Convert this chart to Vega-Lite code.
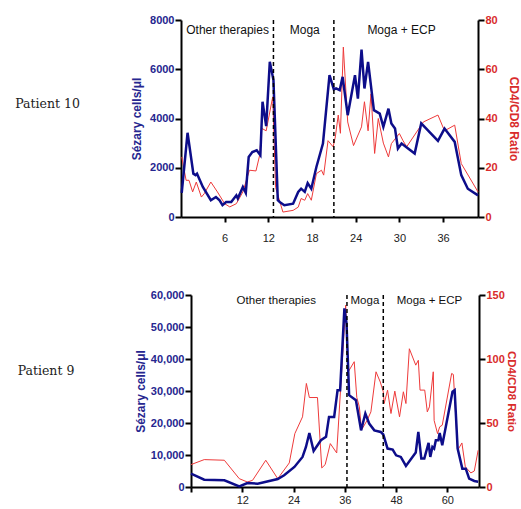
{
  "$schema": "https://vega.github.io/schema/vega-lite/v6.json",
  "padding": {"left": 0, "top": 14, "right": 0, "bottom": 0},
  "background": "white",
  "config": {
    "view": {"stroke": null},
    "font": "Liberation Sans",
    "axis": {"domainColor": "black", "domainWidth": 2, "tickColor": "black", "tickWidth": 2, "grid": false, "labelFont": "Liberation Sans", "titleFont": "Liberation Sans"}
  },
  "datasets": {
    "p10_cells": [
      {"t":0.1,"v":980},{"t":0.9,"v":3420},{"t":1.7,"v":1760},{"t":2.0,"v":1700},{"t":2.2,"v":1760},{"t":3.0,"v":1220},{"t":4.1,"v":680},{"t":4.8,"v":810},{"t":5.3,"v":680},{"t":5.7,"v":480},{"t":6.2,"v":610},{"t":6.9,"v":610},{"t":7.6,"v":880},{"t":7.8,"v":750},{"t":8.5,"v":1220},{"t":8.9,"v":980},{"t":9.3,"v":2440},{"t":9.8,"v":2640},{"t":10.4,"v":2710},{"t":10.9,"v":2510},{"t":11.2,"v":4680},{"t":11.7,"v":3690},{"t":12.2,"v":6300},{"t":12.7,"v":5560},{"t":13.3,"v":680},{"t":13.6,"v":600},{"t":14.2,"v":480},{"t":15.4,"v":540},{"t":16.1,"v":1020},{"t":16.5,"v":1150},{"t":17.0,"v":1020},{"t":17.4,"v":1380},{"t":17.9,"v":1150},{"t":18.6,"v":2030},{"t":19.5,"v":2980},{"t":20.4,"v":5760},{"t":21.0,"v":5180},{"t":21.3,"v":5220},{"t":21.8,"v":5150},{"t":22.2,"v":5690},{"t":22.9,"v":4135},{"t":23.9,"v":5760},{"t":24.3,"v":4810},{"t":24.8,"v":6800},{"t":25.2,"v":5220},{"t":25.7,"v":6300},{"t":26.5,"v":4340},{"t":27.3,"v":4200},{"t":27.8,"v":3660},{"t":28.5,"v":4400},{"t":28.9,"v":3800},{"t":29.4,"v":3590},{"t":29.8,"v":2780},{"t":30.3,"v":2980},{"t":32.1,"v":2580},{"t":33.0,"v":3800},{"t":35.3,"v":3090},{"t":36.2,"v":3590},{"t":37.6,"v":3050},{"t":38.5,"v":1700},{"t":39.4,"v":1150},{"t":40.8,"v":880}
    ],
    "p10_ratio": [
      {"t":0.1,"v":24.4},{"t":0.7,"v":14.9},{"t":1.1,"v":14.9},{"t":1.6,"v":10.2},{"t":2.1,"v":14.2},{"t":2.8,"v":8.1},{"t":3.2,"v":9.5},{"t":4.1,"v":14.2},{"t":5.0,"v":10.2},{"t":6.0,"v":5.4},{"t":6.7,"v":4.1},{"t":7.6,"v":5.4},{"t":8.5,"v":10.2},{"t":9.4,"v":19},{"t":10.3,"v":18.7},{"t":10.8,"v":25},{"t":11.1,"v":36},{"t":11.7,"v":35},{"t":12.6,"v":48.8},{"t":13.0,"v":12},{"t":14.0,"v":2},{"t":15.4,"v":2.7},{"t":16.1,"v":4},{"t":16.5,"v":7.5},{"t":17.0,"v":6.8},{"t":17.4,"v":9.5},{"t":17.9,"v":6.8},{"t":18.6,"v":17.6},{"t":19.3,"v":19},{"t":19.6,"v":17},{"t":20.2,"v":31},{"t":20.9,"v":28.5},{"t":21.2,"v":32.5},{"t":21.6,"v":41.4},{"t":21.9,"v":34},{"t":22.3,"v":69},{"t":22.9,"v":38.6},{"t":23.7,"v":29},{"t":24.8,"v":36.6},{"t":25.2,"v":46.8},{"t":25.7,"v":35},{"t":26.1,"v":50},{"t":26.6,"v":25.8},{"t":27.1,"v":40},{"t":27.8,"v":30},{"t":28.5,"v":24.4},{"t":28.9,"v":29.8},{"t":30.0,"v":33.9},{"t":30.5,"v":31},{"t":31.0,"v":28.5},{"t":33.3,"v":38.6},{"t":35.3,"v":41.4},{"t":36.2,"v":35},{"t":37.6,"v":37.3},{"t":38.5,"v":21.7},{"t":40.8,"v":10.2}
    ],
    "p10_phase": [{"t":12.7},{"t":21.0}],
    "p10_notes": [
      {"t":6.4,"v":7594,"label":"Other therapies"},
      {"t":17.0,"v":7594,"label":"Moga"},
      {"t":30.3,"v":7594,"label":"Moga + ECP"}
    ],
    "p9_cells": [
      {"t":0,"v":4170},{"t":3.1,"v":2300},{"t":7.8,"v":2090},{"t":11.3,"v":210},{"t":13.2,"v":1250},{"t":15.6,"v":1040},{"t":20.3,"v":2500},{"t":21.8,"v":3650},{"t":24.2,"v":6260},{"t":26.1,"v":9390},{"t":26.9,"v":12500},{"t":27.7,"v":16900},{"t":28.7,"v":11270},{"t":30.4,"v":14600},{"t":31.6,"v":15660},{"t":32.3,"v":21900},{"t":33.5,"v":21900},{"t":34.3,"v":30270},{"t":34.9,"v":30270},{"t":35.9,"v":55800},{"t":36.4,"v":51100},{"t":37.0,"v":28700},{"t":38.6,"v":27100},{"t":39.8,"v":17700},{"t":40.8,"v":22960},{"t":41.7,"v":19830},{"t":42.9,"v":17700},{"t":44.4,"v":17200},{"t":45.0,"v":16400},{"t":46.0,"v":12000},{"t":47.2,"v":11700},{"t":48.0,"v":9900},{"t":49.1,"v":9400},{"t":50.3,"v":6600},{"t":52.6,"v":10750},{"t":53.2,"v":17200},{"t":53.9,"v":8870},{"t":54.6,"v":8870},{"t":55.6,"v":13780},{"t":56.0,"v":9400},{"t":56.5,"v":12500},{"t":56.9,"v":12000},{"t":57.3,"v":14600},{"t":57.9,"v":14600},{"t":58.2,"v":16900},{"t":58.8,"v":13040},{"t":61.2,"v":29750},{"t":61.7,"v":30270},{"t":62.4,"v":12000},{"t":63.5,"v":5740},{"t":64.3,"v":5740},{"t":65.1,"v":2610},{"t":66.3,"v":1880},{"t":67.2,"v":1670}
    ],
    "p9_ratio": [
      {"t":0,"v":17.5},{"t":3.1,"v":21.4},{"t":7.8,"v":20.9},{"t":11.3,"v":6.5},{"t":13.2,"v":3.9},{"t":14.4,"v":5.2},{"t":17.5,"v":20.9},{"t":20.3,"v":6.5},{"t":23.0,"v":18.8},{"t":24.3,"v":41.7},{"t":26.1,"v":54.8},{"t":27.0,"v":80.9},{"t":27.7,"v":69.9},{"t":29.6,"v":69.9},{"t":30.6,"v":14.9},{"t":31.4,"v":17.5},{"t":32.6,"v":33.9},{"t":34.1,"v":26.6},{"t":36.2,"v":142},{"t":36.8,"v":90},{"t":38.2,"v":97.9},{"t":38.8,"v":70},{"t":39.4,"v":62.6},{"t":39.9,"v":44.5},{"t":41.2,"v":52},{"t":42.1,"v":58.7},{"t":43.3,"v":90},{"t":44.3,"v":82},{"t":45.0,"v":74.4},{"t":45.2,"v":65.2},{"t":46.0,"v":75.7},{"t":46.8,"v":57.4},{"t":47.7,"v":74.9},{"t":48.8,"v":54.8},{"t":49.7,"v":74.4},{"t":50.3,"v":65.2},{"t":51.1,"v":108},{"t":52.6,"v":95.2},{"t":53.2,"v":99},{"t":53.6,"v":75.7},{"t":54.7,"v":75.7},{"t":55.3,"v":58.7},{"t":55.8,"v":62.6},{"t":56.7,"v":90},{"t":56.9,"v":52},{"t":57.7,"v":41.7},{"t":58.2,"v":47},{"t":58.8,"v":48.3},{"t":61.0,"v":88.7},{"t":61.4,"v":87.9},{"t":62.4,"v":28.7},{"t":63.4,"v":34.4},{"t":64.2,"v":15.7},{"t":65.5,"v":11},{"t":66.3,"v":12.5},{"t":67.2,"v":28.7}
    ],
    "p9_phase": [{"t":36.5},{"t":45.0}],
    "p9_notes": [
      {"t":19.95,"v":58125,"label":"Other therapies"},
      {"t":40.7,"v":58125,"label":"Moga"},
      {"t":55.8,"v":58125,"label":"Moga + ECP"}
    ]
  },
  "spacing": 46,
  "vconcat": [
    {
      "spacing": 35,
      "hconcat": [
        {
          "width": 95, "height": 168,
          "data": {"values": [{"label": "Patient 10"}]},
          "mark": {"type": "text", "font": "DejaVu Serif", "fontSize": 12.5, "color": "#222222"},
          "encoding": {"text": {"field": "label"}}
        },
        {
          "width": 297, "height": 197,
          "layer": [
            {
              "data": {"name": "p10_ratio"},
              "mark": {"type": "line", "color": "#ee3a3a", "strokeWidth": 1},
              "encoding": {
                "x": {"field": "t", "type": "quantitative", "title": null},
                "y": {"field": "v", "type": "quantitative", "scale": {"domain": [0, 80]},
                  "axis": {"orient": "right", "values": [0, 20, 40, 60, 80], "tickSize": 6, "labelPadding": 1, "labelFontSize": 11, "labelFontWeight": "bold", "labelColor": "#d92b2b", "title": "CD4/CD8 Ratio", "titleColor": "#d92b2b", "titleFontSize": 12, "titleFontWeight": "bold", "titlePadding": 9}}
              }
            },
            {
              "layer": [
                {
                  "data": {"name": "p10_cells"},
                  "mark": {"type": "line", "color": "#0d0d8a", "strokeWidth": 2.5},
                  "encoding": {
                    "x": {"field": "t", "type": "quantitative", "title": null, "scale": {"domain": [0, 40.8], "nice": false},
                      "axis": {"values": [6, 12, 18, 24, 30, 36], "tickSize": 5, "labelPadding": 10, "labelFontSize": 11, "labelColor": "#222222"}},
                    "y": {"field": "v", "type": "quantitative", "scale": {"domain": [0, 8000]},
                      "axis": {"values": [0, 2000, 4000, 6000, 8000], "format": "d", "tickSize": 6, "labelPadding": 1, "labelFontSize": 11, "labelFontWeight": "bold", "labelColor": "#26268f", "title": "Sézary cells/μl", "titleColor": "#26268f", "titleFontSize": 12, "titleFontWeight": "bold", "titlePadding": 6}}
                  }
                },
                {
                  "data": {"name": "p10_phase"},
                  "mark": {"type": "rule", "color": "black", "strokeWidth": 1.5, "strokeDash": [4, 3]},
                  "encoding": {"x": {"field": "t", "type": "quantitative", "title": null}}
                }
              ]
            },
            {
              "data": {"name": "p10_notes"},
              "mark": {"type": "text", "fontSize": 12, "color": "#111111", "baseline": "middle"},
              "encoding": {
                "x": {"field": "t", "type": "quantitative", "title": null},
                "y": {"field": "v", "type": "quantitative", "scale": {"domain": [0, 8000]}, "axis": null},
                "text": {"field": "label"}
              }
            }
          ],
          "resolve": {"scale": {"y": "independent"}}
        }
      ]
    },
    {
      "spacing": 42,
      "hconcat": [
        {
          "width": 92, "height": 152,
          "data": {"values": [{"label": "Patient 9"}]},
          "mark": {"type": "text", "font": "DejaVu Serif", "fontSize": 12.5, "color": "#222222"},
          "encoding": {"text": {"field": "label"}}
        },
        {
          "width": 288, "height": 192,
          "layer": [
            {
              "data": {"name": "p9_ratio"},
              "mark": {"type": "line", "color": "#ee3a3a", "strokeWidth": 1},
              "encoding": {
                "x": {"field": "t", "type": "quantitative", "title": null},
                "y": {"field": "v", "type": "quantitative", "scale": {"domain": [0, 150]},
                  "axis": {"orient": "right", "values": [0, 50, 100, 150], "tickSize": 6, "labelPadding": 1, "labelFontSize": 11, "labelFontWeight": "bold", "labelColor": "#d92b2b", "title": "CD4/CD8 Ratio", "titleColor": "#d92b2b", "titleFontSize": 11.5, "titleFontWeight": "bold", "titlePadding": 1}}
              }
            },
            {
              "layer": [
                {
                  "data": {"name": "p9_cells"},
                  "mark": {"type": "line", "color": "#0d0d8a", "strokeWidth": 2.5},
                  "encoding": {
                    "x": {"field": "t", "type": "quantitative", "title": null, "scale": {"domain": [0, 67.4], "nice": false},
                      "axis": {"values": [0, 6, 12, 18, 24, 30, 36, 42, 48, 54, 60, 66], "labelExpr": "datum.value % 12 === 0 && datum.value > 0 ? datum.label : ''", "tickSize": 5, "labelPadding": 2, "labelFontSize": 11, "labelColor": "#222222"}},
                    "y": {"field": "v", "type": "quantitative", "scale": {"domain": [0, 60000]},
                      "axis": {"values": [0, 10000, 20000, 30000, 40000, 50000, 60000], "format": ",d", "tickSize": 6, "labelPadding": 1, "labelFontSize": 11, "labelFontWeight": "bold", "labelColor": "#26268f", "title": "Sézary cells/μl", "titleColor": "#26268f", "titleFontSize": 12, "titleFontWeight": "bold", "titlePadding": 3}}
                  }
                },
                {
                  "data": {"name": "p9_phase"},
                  "mark": {"type": "rule", "color": "black", "strokeWidth": 1.5, "strokeDash": [4, 3]},
                  "encoding": {"x": {"field": "t", "type": "quantitative", "title": null}}
                }
              ]
            },
            {
              "data": {"name": "p9_notes"},
              "mark": {"type": "text", "fontSize": 11.5, "color": "#111111", "baseline": "middle"},
              "encoding": {
                "x": {"field": "t", "type": "quantitative", "title": null},
                "y": {"field": "v", "type": "quantitative", "scale": {"domain": [0, 60000]}, "axis": null},
                "text": {"field": "label"}
              }
            }
          ],
          "resolve": {"scale": {"y": "independent"}}
        }
      ]
    }
  ]
}
